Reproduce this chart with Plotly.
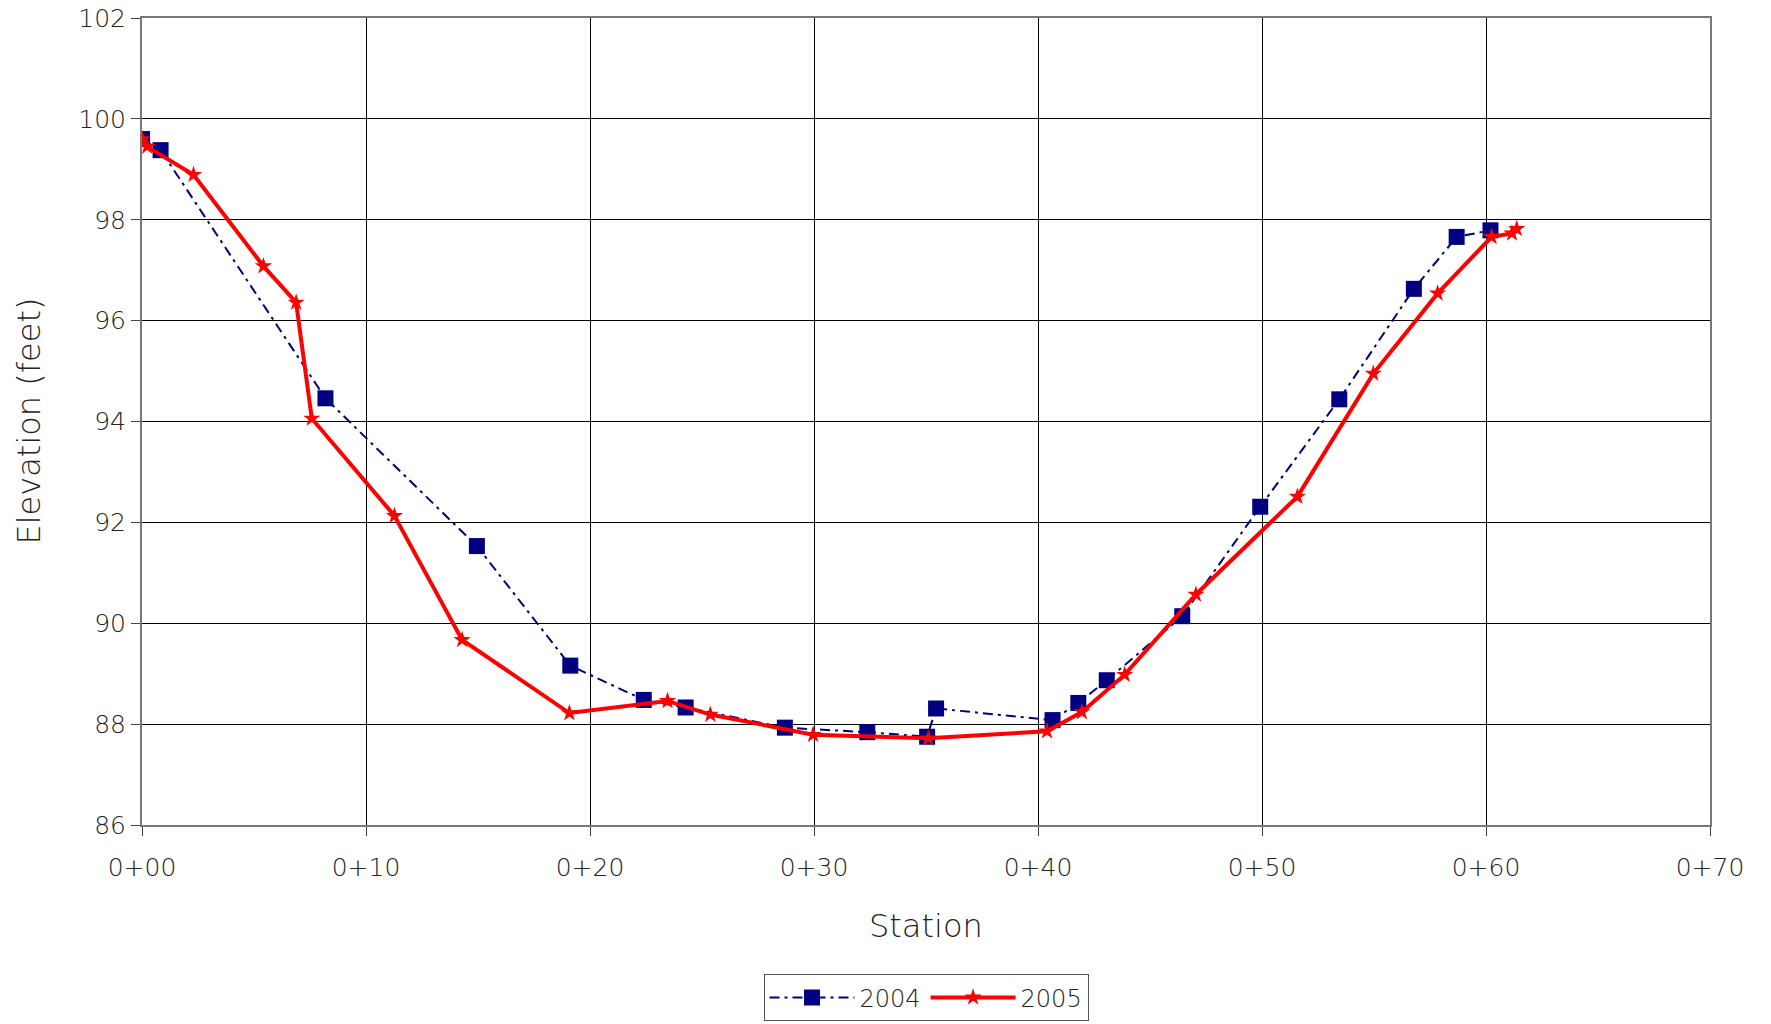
import plotly.graph_objects as go

station_2004 = [0, 0.83, 8.19, 14.95, 19.12, 22.4, 24.27, 28.7, 32.38, 35.05, 35.45,
                40.65, 41.8, 43.07, 46.44, 49.92, 53.45, 56.78, 58.69, 60.2]
elev_2004 = [99.6, 99.38, 94.46, 91.53, 89.16, 88.48, 88.33, 87.93, 87.84, 87.75, 88.31,
             88.08, 88.42, 88.87, 90.14, 92.31, 94.44, 96.63, 97.66, 97.79]

station_2005 = [0, 0.23, 2.3, 5.42, 6.88, 7.58, 11.27, 14.29, 19.08, 23.46, 25.37,
                29.96, 35.1, 40.4, 41.96, 43.87, 47.05, 51.58, 54.97, 57.84, 60.25, 61.16, 61.37]
elev_2005 = [99.6, 99.45, 98.89, 97.08, 96.36, 94.06, 92.13, 89.67, 88.22, 88.46, 88.19,
             87.79, 87.72, 87.86, 88.24, 88.98, 90.57, 92.51, 94.95, 96.54, 97.66, 97.73, 97.82]

x_tickvals = [0, 10, 20, 30, 40, 50, 60, 70]
x_ticktext = ["0+00", "0+10", "0+20", "0+30", "0+40", "0+50", "0+60", "0+70"]
y_tickvals = [86, 88, 90, 92, 94, 96, 98, 100, 102]

font_family = "DejaVu Sans, sans-serif"
text_color = "#222222"

fig = go.Figure()
fig.add_trace(go.Scatter(
    x=station_2004, y=elev_2004, name="2004", mode="lines+markers",
    line=dict(color="#000080", width=2, dash="10px,5px,3px,5px"),
    marker=dict(symbol="square", size=16, color="#000080"),
))
fig.add_trace(go.Scatter(
    x=station_2005, y=elev_2005, name="2005", mode="lines+markers",
    line=dict(color="#ff0000", width=4),
    marker=dict(symbol="star", size=13, color="#ff0000"),
))

fig.update_layout(
    width=1771, height=1024,
    margin=dict(l=142, r=61, t=18, b=199, autoexpand=False),
    paper_bgcolor="white", plot_bgcolor="white",
    font=dict(family=font_family, size=25, color=text_color, weight=200),
    showlegend=True,
    legend=dict(
        orientation="h", x=0.5, xanchor="center", y=-0.185, yanchor="top",
        bordercolor="#555555", borderwidth=1,
        font=dict(size=24, family=font_family, weight=200, color=text_color),
        itemwidth=85,
    ),
    annotations=[
        dict(text="Station", xref="paper", yref="paper", x=0.5, y=-0.125,
             xanchor="center", yanchor="middle", showarrow=False,
             font=dict(size=32, color=text_color, family=font_family, weight=200)),
        dict(text="Elevation (feet)", xref="paper", yref="paper", x=-0.0727, y=0.5,
             xanchor="center", yanchor="middle", showarrow=False, textangle=-90,
             font=dict(size=32, color=text_color, family=font_family, weight=200)),
    ],
)
fig.update_xaxes(
    range=[0, 70], tickvals=x_tickvals, ticktext=x_ticktext,
    showgrid=True, gridcolor="black", gridwidth=1,
    showline=True, linecolor="#777777", linewidth=2, mirror=True,
    ticks="outside", ticklen=9, tickcolor="#444444", ticklabelstandoff=10,
    zeroline=False, automargin=False, ticklabeloverflow="allow",
)
fig.update_yaxes(
    range=[86, 102], tickvals=y_tickvals,
    showgrid=True, gridcolor="black", gridwidth=1,
    showline=True, linecolor="#777777", linewidth=2, mirror=True,
    ticks="outside", ticklen=9, tickcolor="#444444",
    zeroline=False, automargin=False, ticklabeloverflow="allow",
)

fig.write_html(
    "out.html",
    config={"displayModeBar": False},
    post_script="document.body.style.margin='0';document.body.style.overflow='hidden';",
)
